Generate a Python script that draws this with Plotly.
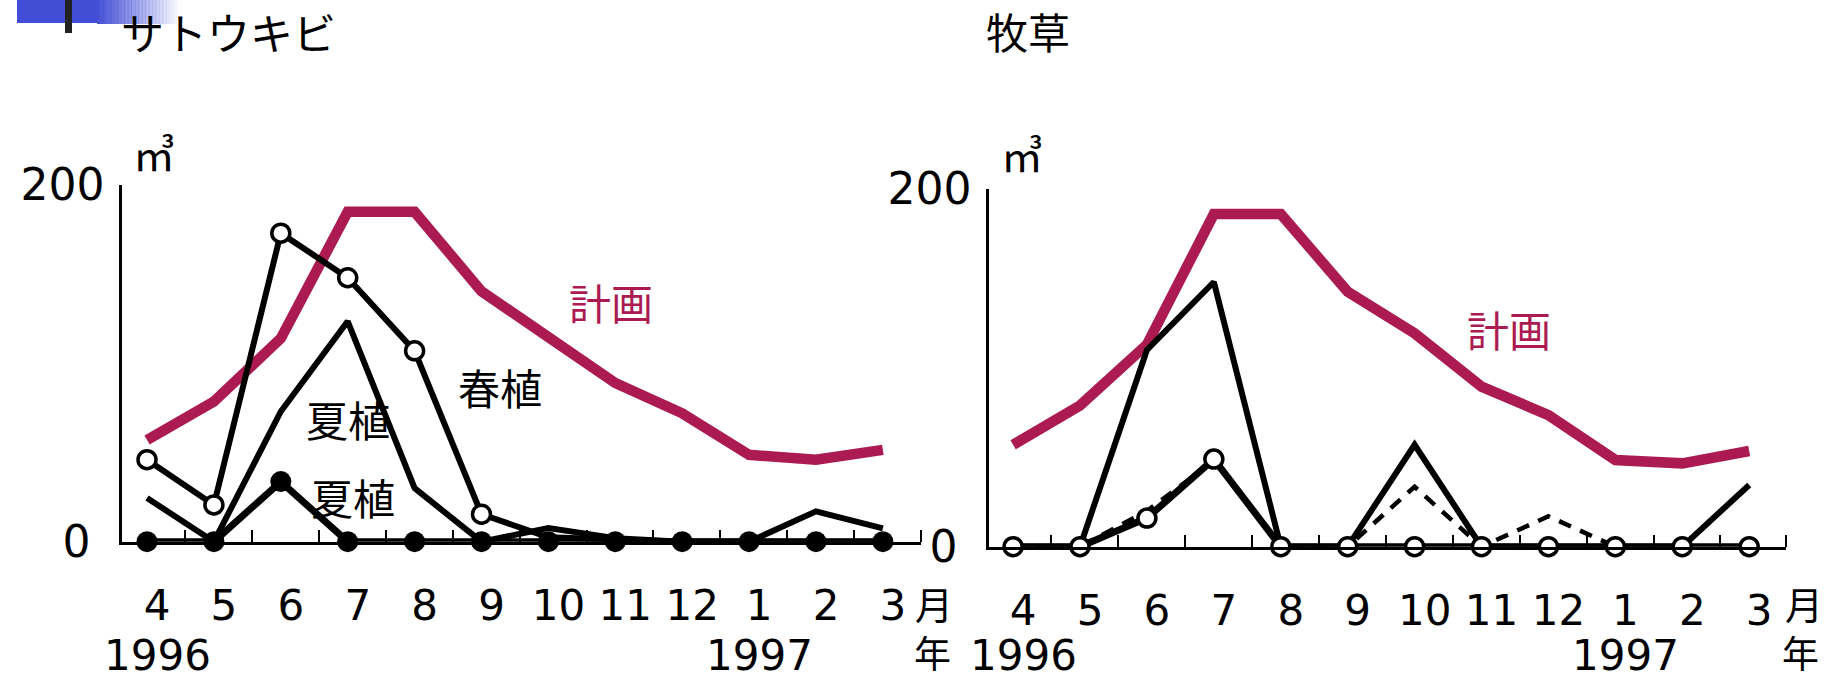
import plotly.graph_objects as go

# ---------------- data ----------------
months = ["4", "5", "6", "7", "8", "9", "10", "11", "12", "1", "2", "3"]
years = ["1996", "1997"]
year_idx = [0, 9]
idx = list(range(12))

# サトウキビ (m3)
sugar_plan = [57, 78.6, 114, 185, 185, 140.4, 114.7, 89, 72, 48.7, 46, 51.5]
sugar_spring = [46, 20.6, 173, 148, 107, 15.4, 2.5, 1, 0, 0, 0, 0]
sugar_summer_a = [24.5, 0, 73, 123.6, 30, 0, 7.7, 2, 0, 0, 17, 7.5]
sugar_summer_b = [0, 0, 33.7, 0, 0, 0, 0, 0, 0, 0, 0, 0]

# 牧草 (m3)
pasture_plan = [57, 79, 113, 186, 186, 142.6, 119.3, 89.5, 73.6, 48.5, 46.6, 53.5]
pasture_solid = [0, 0, 110, 148, 0, 0, 57, 0, 0, 0, 0, 34.5]
pasture_dashed = [0, 0, 20, 48, 0, 0, 33.5, 0, 17, 0, None, None]
pasture_open = [0, 0, 16, 49, 0, 0, 0, 0, 0, 0, 0, 0]

# ---------------- styling ----------------
W, H = 1839, 679
PLAN = "#ab1b52"
BLACK = "#000000"
NUM_FONT = "DejaVu Sans"
JP_FONT = "Noto Sans CJK JP"


def px(x):
    return x / W


def py(y):
    return 1 - y / H


fig = go.Figure()


def add(x, y, xa, ya, **kw):
    fig.add_trace(go.Scatter(x=x, y=y, xaxis=xa, yaxis=ya, cliponaxis=False,
                             showlegend=False, hoverinfo="skip", **kw))


# left chart
add(idx, sugar_plan, "x", "y", mode="lines", line=dict(color=PLAN, width=10.5))
add(idx, sugar_summer_a, "x", "y", mode="lines", line=dict(color=BLACK, width=6))
add(idx, sugar_spring, "x", "y", mode="lines+markers",
    line=dict(color=BLACK, width=6),
    marker=dict(size=[18] * 6 + [0] * 6, color="white", opacity=1,
                line=dict(color=BLACK, width=3.5)))
add(idx, sugar_summer_b, "x", "y", mode="lines+markers",
    line=dict(color=BLACK, width=7),
    marker=dict(size=21, color=BLACK))

# right chart
add(idx, pasture_plan, "x2", "y2", mode="lines", line=dict(color=PLAN, width=10.5))
add(idx, pasture_solid, "x2", "y2", mode="lines", line=dict(color=BLACK, width=6))
add(idx, pasture_dashed, "x2", "y2", mode="lines",
    line=dict(color=BLACK, width=4.5, dash="13px,10px"))
add(idx, pasture_open, "x2", "y2", mode="lines+markers",
    line=dict(color=BLACK, width=7),
    marker=dict(size=18, color="white", line=dict(color=BLACK, width=3.5)))

LABEL_SHIFT = 0.15


def xaxis_cfg(d0, d1, r0, r1, anchor):
    return dict(
        domain=[px(d0), px(d1)], range=[r0, r1], anchor=anchor,
        automargin=False,
        showline=True, linecolor=BLACK, linewidth=2.5,
        showgrid=False, zeroline=False,
        tickmode="array", tickvals=[i + LABEL_SHIFT for i in idx],
        ticktext=months,
        ticks="", tickangle=0, ticklabelstandoff=25,
        tickfont=dict(family=NUM_FONT, size=42, color=BLACK),
        minor=dict(tickmode="array",
                   tickvals=[k + 0.57 for k in range(11)] + [r1 - 0.005],
                   ticks="inside", ticklen=12, tickwidth=2, tickcolor=BLACK,
                   showgrid=False),
    )


def yaxis_cfg(y0, y200, anchor):
    return dict(
        domain=[py(y0), py(y200)], range=[0, 200], anchor=anchor,
        automargin=False,
        showline=True, linecolor=BLACK, linewidth=2.5,
        showgrid=False, zeroline=False,
        tickmode="array", tickvals=[0, 200], ticktext=["0\u00a0", "200"],
        ticks="inside", ticklen=12, tickwidth=2.5, tickcolor=BLACK,
        tickfont=dict(family=NUM_FONT, size=44, color=BLACK),
        ticklabelstandoff=6,
    )


annotations = []


def txt(x, y, s, size, color=BLACK, family=JP_FONT):
    annotations.append(dict(x=px(x), y=py(y), xref="paper", yref="paper",
                            text=s, showarrow=False, xanchor="center",
                            yanchor="middle",
                            font=dict(family=family, size=size, color=color)))


# year row (positioned on each chart's x axis)
for xr in ("x", "x2"):
    for yi, ylab in zip(year_idx, years):
        annotations.append(dict(x=yi + LABEL_SHIFT, xref=xr, y=py(655),
                                yref="paper", text=ylab, showarrow=False,
                                xanchor="center", yanchor="middle",
                                font=dict(family=NUM_FONT, size=42,
                                          color=BLACK)))

# titles
txt(228, 31, "サトウキビ", 43)
txt(1028, 31, "牧草", 42)
# units
txt(154, 152, "㎥", 42)
txt(1022, 154, "㎥", 42)
# series labels
txt(611, 301, "計画", 42, PLAN)
txt(1509, 328, "計画", 42, PLAN)
txt(500, 386, "春植", 42)
txt(348, 418, "夏植", 42)
txt(353, 496, "夏植", 42)
# month / year markers
txt(934, 602, "月", 38)
txt(932, 652, "年", 37)
txt(1804, 602, "月", 38)
txt(1800, 652, "年", 37)

# slide decoration (top-left)
shapes = [dict(type="rect", xref="paper", yref="paper",
               x0=px(17), x1=px(97), y0=py(23), y1=py(0),
               fillcolor="#424ed6", line=dict(width=0), layer="below")]
steps = 24
for i in range(steps):
    a = 1 - (i + 0.5) / steps
    x0 = 97 + i * (83 / steps)
    shapes.append(dict(type="rect", xref="paper", yref="paper",
                       x0=px(x0), x1=px(x0 + 83 / steps + 0.4),
                       y0=py(24), y1=py(0),
                       fillcolor="#424ed6", opacity=a,
                       line=dict(width=0), layer="below"))
shapes.append(dict(type="rect", xref="paper", yref="paper",
                   x0=px(65), x1=px(72), y0=py(33), y1=py(0),
                   fillcolor="#222222", line=dict(width=0)))

fig.update_layout(
    width=W, height=H,
    margin=dict(l=0, r=0, t=0, b=0, autoexpand=False),
    paper_bgcolor="white", plot_bgcolor="white",
    showlegend=False,
    xaxis=xaxis_cfg(122, 921, -0.374, 11.57, "y"),
    yaxis=yaxis_cfg(541.7, 185, "x"),
    xaxis2=xaxis_cfg(989, 1786, -0.36, 11.55, "y2"),
    yaxis2=yaxis_cfg(546.7, 189, "x2"),
    annotations=annotations,
    shapes=shapes,
)

fig.write_html(
    "out.html",
    config={"displayModeBar": False},
    post_script="document.body.style.margin='0';"
                "document.body.style.overflow='hidden';",
)
